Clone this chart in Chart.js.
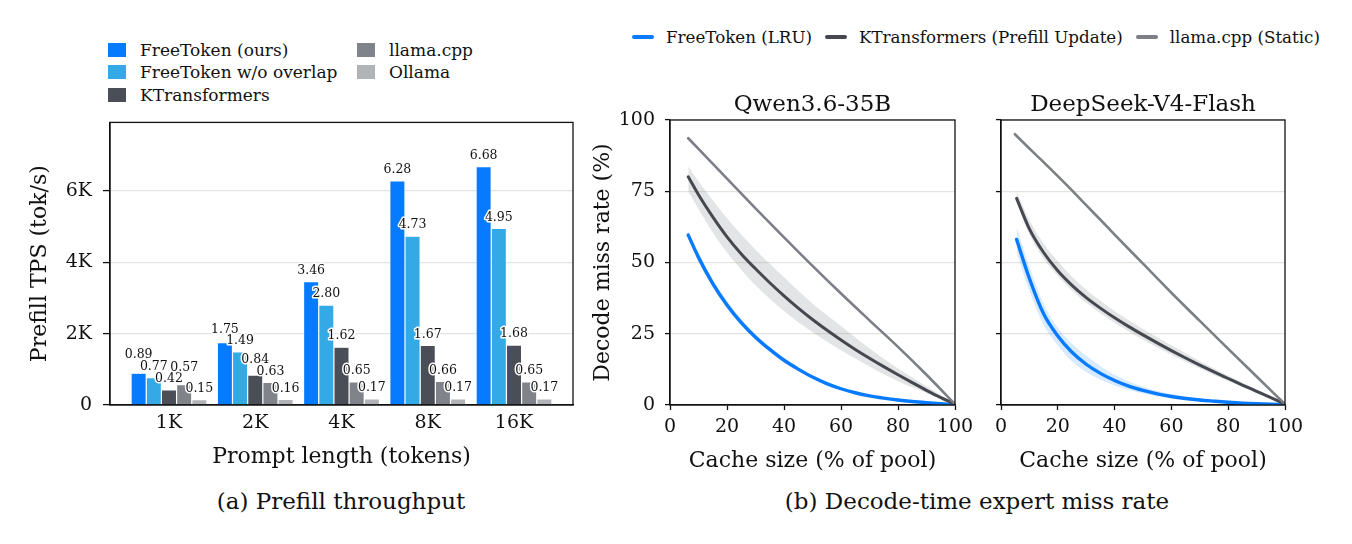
<!DOCTYPE html>
<html>
<head>
<meta charset="utf-8">
<script src="https://cdn.jsdelivr.net/npm/chart.js@4.4.1/dist/chart.umd.min.js"></script>
<style>
body{margin:0;width:1352px;height:544px;background:#fff;position:relative;overflow:hidden;font-family:"DejaVu Serif",serif;color:#111}
canvas{position:absolute}
#barLegend{position:absolute;left:108px;top:38.5px;display:grid;grid-template-rows:repeat(3,22.5px);grid-auto-flow:column;grid-template-columns:249px auto;font-size:17px}
#barLegend div,#lineLegend div{display:flex;align-items:center;white-space:nowrap}
#barLegend span.sw{width:18px;height:14px;margin-right:14px;display:inline-block}
#lineLegend{position:absolute;left:632px;top:26px;height:22px;display:flex;align-items:center;font-size:16.7px}
#lineLegend span.sw{width:22px;height:4px;border-radius:2px;margin-right:12px;display:inline-block}
#lineLegend div{margin-right:13px}
.cap{position:absolute;top:488px;font-size:23px;transform:translateX(-50%);white-space:nowrap}
</style>
</head>
<body>
<div id="barLegend"></div>
<div id="lineLegend"></div>
<canvas id="tps" width="590" height="380" style="left:0;top:100px"></canvas>
<canvas id="qwen" width="400" height="400" style="left:580px;top:80px"></canvas>
<canvas id="deepseek" width="340" height="400" style="left:970px;top:80px"></canvas>
<div class="cap" style="left:341px">(a) Prefill throughput</div>
<div class="cap" style="left:977px">(b) Decode-time expert miss rate</div>
<script>
// (a) prefill throughput, K tok/s
const categories = ["1K", "2K", "4K", "8K", "16K"]
const barSeries = ["FreeToken (ours)", "FreeToken w/o overlap", "KTransformers", "llama.cpp", "Ollama"]
const freeTokenTps = [0.89, 1.75, 3.46, 6.28, 6.68]
const freeTokenNoOverlapTps = [0.77, 1.49, 2.80, 4.73, 4.95]
const ktransformersTps = [0.42, 0.84, 1.62, 1.67, 1.68]
const llamaCppTps = [0.57, 0.63, 0.65, 0.66, 0.65]
const ollamaTps = [0.15, 0.16, 0.17, 0.17, 0.17]
const tpsTicks = [0, 2, 4, 6]

// (b) decode miss rate (%), cache size (% of pool)
const lineSeries = ["FreeToken (LRU)", "KTransformers (Prefill Update)", "llama.cpp (Static)"]
const missTicks = [0, 25, 50, 75, 100]

const qwenX = [6.4, 10, 15, 20, 25, 30, 35, 40, 45, 50, 55, 60, 65, 70, 75, 80, 85, 90, 95, 100]
const qwenFreeToken = [59.6, 51.8, 42.6, 35.1, 28.9, 23.8, 19.5, 15.7, 12.6, 9.8, 7.5, 5.7, 4.3, 3.2, 2.4, 1.75, 1.25, 0.85, 0.5, 0.1]
const qwenKt = [80.1, 73.8, 66, 59, 53, 47.8, 42.9, 38.3, 34, 30, 26.3, 22.8, 19.5, 16.4, 13.45, 10.6, 7.85, 5.15, 2.6, 0.3]

const qwenBandX = [6.4, 10, 15, 20, 25, 30, 40, 50, 60, 70, 80, 90, 100]
const qwenFreeTokenHi = [61, 53.3, 44.1, 36.6, 30.2, 24.9, 16.5, 10.3, 6.1, 3.4, 1.9, 1, 0.2]
const qwenFreeTokenLo = [58.5, 50.6, 41.3, 33.8, 27.8, 22.8, 15, 9.2, 5.3, 2.9, 1.5, 0.8, 0.05]
const qwenKtHi = [83.8, 78.5, 71.8, 65.5, 59.8, 54.5, 44.8, 35.6, 27.7, 19.8, 12.8, 6.6, 0.4]
const qwenKtLo = [75, 68.8, 60.5, 53.5, 47.5, 42, 33, 25.5, 19.2, 13.5, 8.3, 4.2, 0.2]

const qwenLlamaX = [6.4, 10, 20, 30, 40, 50, 60, 70, 80, 90, 100]
const qwenLlama = [93.6, 89.9, 79.4, 69, 58.8, 48.8, 39.1, 29.7, 20.4, 10.6, 0.3]

const dsX = [5.5, 10, 15, 20, 25, 30, 35, 40, 45, 50, 55, 60, 65, 70, 75, 80, 85, 90, 95, 100]
const dsFreeToken = [58.1, 44.4, 32, 24.2, 18.5, 14.3, 11.1, 8.6, 6.6, 5.1, 3.9, 3, 2.3, 1.75, 1.34, 0.96, 0.65, 0.44, 0.3, 0.1]
const dsKt = [72.5, 61.8, 53.5, 47.1, 42, 37.7, 34, 30.6, 27.5, 24.6, 21.8, 19.1, 16.5, 14, 11.6, 9.3, 7, 4.8, 2.6, 0.3]

const dsBandX = [5.5, 10, 15, 20, 25, 30, 40, 50, 60, 70, 80, 90, 100]
const dsFreeTokenHi = [62.5, 48.5, 35.5, 27, 21.5, 17.3, 10.6, 6.4, 3.9, 2.3, 1.3, 0.65, 0.2]
const dsFreeTokenLo = [53.5, 40, 28.2, 21, 15.3, 11.6, 6.8, 4, 2.3, 1.35, 0.7, 0.3, 0.05]
const dsKtHi = [75, 64.8, 56.7, 50.4, 45, 40.4, 33, 26.7, 21, 15.4, 10.3, 5.4, 0.4]
const dsKtLo = [71, 59.8, 51.3, 45.3, 40.2, 35.9, 28.9, 22.9, 17.6, 12.8, 8.4, 4.2, 0.2]

const dsLlamaX = [4.9, 10, 15, 20, 25, 30, 35, 40, 50, 60, 70, 80, 90, 100]
const dsLlama = [95, 90, 85.2, 80.3, 75.3, 70.1, 65, 59.8, 49.6, 39.4, 29.5, 19.7, 10, 0.3]

const barColors = ["#077bff", "#33aae6", "#4a4e57", "#80838a", "#b1b3b7"]
const lineColors = ["#077bff", "#45484f", "#7c7f86"]
const ink = "#111"
const gridColor = "#e3e3df"

Chart.defaults.font.family = '"DejaVu Serif", serif'
Chart.defaults.color = ink
Chart.defaults.animation = false

// legends
const barLegend = document.getElementById("barLegend")
barSeries.forEach((name, j) => {
    barLegend.innerHTML += `<div><span class="sw" style="background:${barColors[j]}"></span>${name}</div>`
})
const lineLegend = document.getElementById("lineLegend")
lineSeries.forEach((name, j) => {
    lineLegend.innerHTML += `<div><span class="sw" style="background:${lineColors[j]}"></span>${name}</div>`
})

const frame = {
    id: "frame",
    afterDraw(c){
        const a = c.chartArea, ctx = c.ctx
        ctx.save()
        ctx.strokeStyle = ink
        ctx.lineWidth = 1.3
        ctx.strokeRect(a.left, a.top, a.right - a.left, a.bottom - a.top)
        ctx.restore()
    }
}

// value labels over bars, nudged up when neighbours collide
const barValues = {
    id: "barValues",
    afterDatasetsDraw(c){
        const ctx = c.ctx
        ctx.save()
        ctx.font = '12.5px "DejaVu Serif"'
        ctx.textAlign = "center"
        ctx.textBaseline = "middle"
        ctx.lineJoin = "round"
        categories.forEach((cat, i) => {
            const pts = c.data.datasets.map((d, j) => {
                const el = c.getDatasetMeta(j).data[i]
                return {x: el.x, y: el.y - 11, t: d.data[i].y.toFixed(2)}
            })
            for(let j = 1; j < pts.length; j++){
                const a = pts[j - 1], b = pts[j]
                if(Math.abs(a.y - b.y) < 11.3){
                    if(a.y < b.y) a.y = b.y - 11.3
                    else b.y = a.y - 11.3
                }
            }
            pts.forEach(p => {
                ctx.strokeStyle = "#fff"
                ctx.lineWidth = 3
                ctx.strokeText(p.t, p.x, p.y)
                ctx.fillStyle = ink
                ctx.fillText(p.t, p.x, p.y)
            })
        })
        ctx.restore()
    }
}

const tpsSeries = [freeTokenTps, freeTokenNoOverlapTps, ktransformersTps, llamaCppTps, ollamaTps]

new Chart(document.getElementById("tps").getContext("2d"), {
    type: "bar",
    data: {
        datasets: barSeries.map((name, j) => ({
            label: name,
            data: categories.map((c, i) => ({x: i, y: tpsSeries[j][i]})),
            backgroundColor: barColors[j],
            borderColor: "#fff",
            borderWidth: 0.6,
            categoryPercentage: 0.88,
            barPercentage: 1
        }))
    },
    options: {
        responsive: false,
        layout: {padding: {top: 20, right: 17, left: 0, bottom: 0}},
        plugins: {legend: {display: false}, tooltip: {enabled: false}},
        scales: {
            x: {
                type: "linear",
                offset: false,
                min: -0.684,
                max: 4.684,
                afterBuildTicks: s => { s.ticks = categories.map((c, i) => ({value: i})) },
                afterFit: s => { s.height = 75 },
                ticks: {callback: v => categories[v], font: {size: 19}, padding: 7, color: ink},
                grid: {drawOnChartArea: false, drawTicks: false},
                border: {color: ink, width: 1.3},
                title: {display: true, text: "Prompt length (tokens)", font: {size: 22, lineHeight: 1.2}, padding: {top: 0, bottom: 10}}
            },
            y: {
                min: 0,
                max: 7.92,
                afterBuildTicks: s => { s.ticks = tpsTicks.map(v => ({value: v})) },
                afterFit: s => { s.width = 110 },
                ticks: {callback: v => v === 0 ? "0" : v + "K", font: {size: 19}, padding: 11, color: ink},
                grid: {color: gridColor, lineWidth: 1.2, tickColor: ink, tickLength: 7, tickWidth: 1.3},
                border: {color: ink, width: 1.3},
                title: {display: true, text: "Prefill TPS (tok/s)", font: {size: 22, lineHeight: 1.2}, padding: {top: 26.8, bottom: 0}}
            }
        }
    },
    plugins: [frame, barValues]
})

function pts(xs, ys){
    return xs.map((x, i) => ({x: x, y: ys[i]}))
}

function band(xs, hi, lo, fillColor){
    const base = {pointRadius: 0, borderWidth: 0, cubicInterpolationMode: "monotone", order: 5}
    return [
        Object.assign({data: pts(xs, hi), fill: false}, base),
        Object.assign({data: pts(xs, lo), fill: "-1", backgroundColor: fillColor}, base)
    ]
}

function line(xs, ys, color, width, order){
    return {data: pts(xs, ys), borderColor: color, borderWidth: width, pointRadius: 0,
        fill: false, cubicInterpolationMode: "monotone", order: order, borderCapStyle: "round"}
}

function missPanel(id, title, s, first){
    new Chart(document.getElementById(id).getContext("2d"), {
        type: "line",
        data: {
            datasets: [
                ...band(s.bx, s.ftHi, s.ftLo, "rgba(7,123,255,0.16)"),
                ...band(s.bx, s.ktHi, s.ktLo, "rgba(140,142,148,0.24)"),
                line(s.x, s.ft, lineColors[0], 3.4, 3),
                line(s.x, s.kt, lineColors[1], 3, 2),
                line(s.lx, s.llama, lineColors[2], 2.6, 1)
            ]
        },
        options: {
            responsive: false,
            layout: {padding: {top: 0, right: 25, left: 0, bottom: 0}},
            plugins: {
                legend: {display: false},
                tooltip: {enabled: false},
                title: {display: true, text: title, fullSize: false, color: ink,
                    font: {size: 23, weight: "normal", lineHeight: 1.2}, padding: {top: 11, bottom: 1.4}}
            },
            scales: {
                x: {
                    type: "linear",
                    min: 0,
                    max: 100,
                    afterFit: sc => { sc.height = 75 },
                    ticks: {stepSize: 20, font: {size: 19}, padding: 6, color: ink},
                    grid: {drawOnChartArea: false, tickColor: ink, tickLength: 5, tickWidth: 1.3},
                    border: {color: ink, width: 1.3},
                    title: {display: true, text: "Cache size (% of pool)", font: {size: 22, lineHeight: 1.2}, padding: {top: 0, bottom: 6}}
                },
                y: {
                    min: 0,
                    max: 100,
                    afterBuildTicks: sc => { sc.ticks = missTicks.map(v => ({value: v})) },
                    afterFit: sc => { sc.width = first ? 90 : 31 },
                    ticks: {display: first, font: {size: 19}, padding: 10, color: ink},
                    grid: {color: gridColor, lineWidth: 1.2, tickColor: ink, tickLength: 5, tickWidth: 1.3},
                    border: {color: ink, width: 1.3},
                    title: {display: first, text: "Decode miss rate (%)", font: {size: 22, lineHeight: 1.2}, padding: {top: 9.8, bottom: 0}}
                }
            }
        },
        plugins: [frame]
    })
}

missPanel("qwen", "Qwen3.6-35B", {
    x: qwenX, ft: qwenFreeToken, kt: qwenKt,
    bx: qwenBandX, ftHi: qwenFreeTokenHi, ftLo: qwenFreeTokenLo, ktHi: qwenKtHi, ktLo: qwenKtLo,
    lx: qwenLlamaX, llama: qwenLlama
}, true)

missPanel("deepseek", "DeepSeek-V4-Flash", {
    x: dsX, ft: dsFreeToken, kt: dsKt,
    bx: dsBandX, ftHi: dsFreeTokenHi, ftLo: dsFreeTokenLo, ktHi: dsKtHi, ktLo: dsKtLo,
    lx: dsLlamaX, llama: dsLlama
}, false)
</script>
</body>
</html>
